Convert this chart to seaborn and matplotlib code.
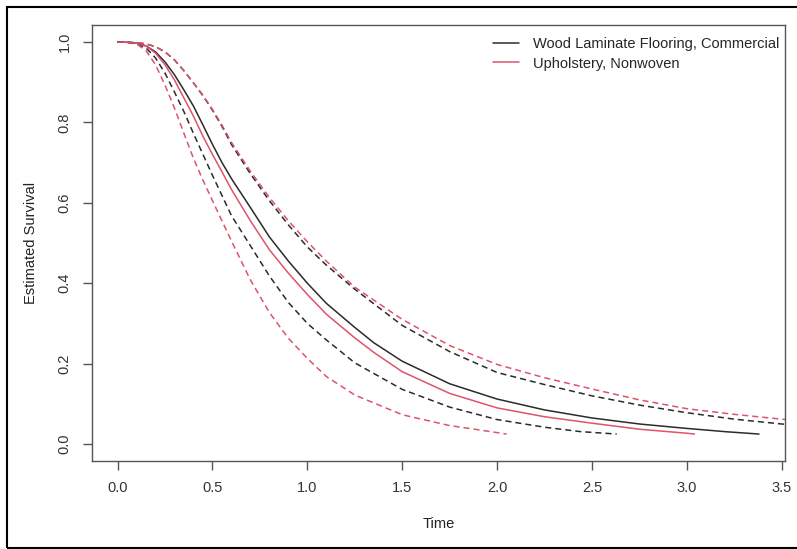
import matplotlib
matplotlib.use('Agg')
import matplotlib.pyplot as plt
import seaborn as sns
from matplotlib.lines import Line2D
from matplotlib.patches import Rectangle

# Estimated survival curves (time, survival)
wood_t = [0, 0.05, 0.1, 0.15, 0.2, 0.25, 0.3, 0.35, 0.4, 0.45, 0.5, 0.55, 0.6, 0.7, 0.8, 0.9,
          1.0, 1.1, 1.25, 1.35, 1.5, 1.75, 2.0, 2.25, 2.5, 2.75, 3.0, 3.2, 3.38]
wood_est = [1.0, 0.999, 0.997, 0.99, 0.975, 0.95, 0.918, 0.88, 0.84, 0.793, 0.745, 0.70,
            0.66, 0.588, 0.515, 0.455, 0.40, 0.35, 0.29, 0.252, 0.206, 0.15, 0.112, 0.085,
            0.065, 0.05, 0.039, 0.031, 0.025]

wood_lo_t = [0, 0.05, 0.1, 0.15, 0.2, 0.25, 0.3, 0.35, 0.4, 0.45, 0.5, 0.55, 0.6, 0.7, 0.8,
             0.9, 1.0, 1.1, 1.25, 1.5, 1.75, 2.0, 2.25, 2.44, 2.63]
wood_lo = [1.0, 0.999, 0.996, 0.985, 0.96, 0.922, 0.875, 0.826, 0.772, 0.72, 0.668, 0.618,
           0.568, 0.493, 0.418, 0.352, 0.30, 0.259, 0.202, 0.136, 0.092, 0.061, 0.042,
           0.031, 0.025]

wood_hi_t = [0, 0.05, 0.1, 0.15, 0.2, 0.25, 0.3, 0.35, 0.4, 0.45, 0.5, 0.55, 0.6, 0.7, 0.8,
             0.9, 1.0, 1.1, 1.25, 1.5, 1.75, 2.0, 2.25, 2.5, 2.75, 3.0, 3.25, 3.5, 3.6]
wood_hi = [1.0, 0.999, 0.998, 0.995, 0.988, 0.975, 0.955, 0.928, 0.898, 0.866, 0.83, 0.79,
           0.745, 0.672, 0.605, 0.545, 0.49, 0.445, 0.385, 0.295, 0.23, 0.178, 0.148, 0.12,
           0.097, 0.078, 0.062, 0.05, 0.046]

uph_t = [0, 0.05, 0.1, 0.15, 0.2, 0.25, 0.3, 0.35, 0.4, 0.45, 0.5, 0.55, 0.6, 0.7, 0.8, 0.9,
         1.0, 1.1, 1.25, 1.35, 1.5, 1.75, 2.0, 2.25, 2.5, 2.75, 3.0, 3.04]
uph_est = [1.0, 0.999, 0.997, 0.99, 0.972, 0.943, 0.905, 0.86, 0.815, 0.765, 0.72, 0.677,
           0.633, 0.555, 0.483, 0.425, 0.372, 0.323, 0.264, 0.228, 0.18, 0.126, 0.09, 0.068,
           0.052, 0.037, 0.027, 0.025]

uph_lo_t = [0, 0.05, 0.1, 0.15, 0.2, 0.25, 0.3, 0.35, 0.4, 0.45, 0.5, 0.55, 0.6, 0.7, 0.8,
            0.9, 1.0, 1.1, 1.25, 1.5, 1.75, 1.91, 2.05]
uph_lo = [1.0, 0.999, 0.995, 0.978, 0.943, 0.892, 0.835, 0.772, 0.71, 0.656, 0.605, 0.555,
          0.505, 0.408, 0.327, 0.263, 0.213, 0.168, 0.122, 0.073, 0.046, 0.035, 0.025]

uph_hi_t = [0, 0.05, 0.1, 0.15, 0.2, 0.25, 0.3, 0.35, 0.4, 0.45, 0.5, 0.55, 0.6, 0.7, 0.8,
            0.9, 1.0, 1.1, 1.25, 1.5, 1.75, 2.0, 2.25, 2.5, 2.75, 3.0, 3.25, 3.5, 3.6]
uph_hi = [1.0, 0.999, 0.998, 0.995, 0.988, 0.975, 0.955, 0.928, 0.898, 0.867, 0.832, 0.793,
          0.75, 0.678, 0.613, 0.555, 0.503, 0.455, 0.39, 0.31, 0.245, 0.198, 0.165, 0.137,
          0.11, 0.088, 0.074, 0.062, 0.058]

labels = ['Wood Laminate Flooring, Commercial', 'Upholstery, Nonwoven']
x_ticks = [0.0, 0.5, 1.0, 1.5, 2.0, 2.5, 3.0, 3.5]
y_ticks = [0.0, 0.2, 0.4, 0.6, 0.8, 1.0]

BLACK = '#2b2b2b'
PINK = '#df536b'
AXCOL = '#555555'

sns.set_style('white')
plt.rcParams['font.family'] = ['Liberation Sans', 'DejaVu Sans']

fig = plt.figure(figsize=(7.97, 5.49), dpi=100)
ax = fig.add_axes([92 / 797, 1 - 461 / 549, (785 - 92) / 797, (461 - 25) / 549])

dash = (0, (4.0, 2.6))
lw = 1.1
sns.lineplot(x=wood_hi_t, y=wood_hi, color=BLACK, lw=lw, linestyle=dash, ax=ax, estimator=None, sort=False)
sns.lineplot(x=wood_lo_t, y=wood_lo, color=BLACK, lw=lw, linestyle=dash, ax=ax, estimator=None, sort=False)
sns.lineplot(x=uph_hi_t, y=uph_hi, color=PINK, lw=lw, linestyle=dash, ax=ax, estimator=None, sort=False)
sns.lineplot(x=uph_lo_t, y=uph_lo, color=PINK, lw=lw, linestyle=dash, ax=ax, estimator=None, sort=False)
sns.lineplot(x=wood_t, y=wood_est, color=BLACK, lw=lw, ax=ax, estimator=None, sort=False)
sns.lineplot(x=uph_t, y=uph_est, color=PINK, lw=lw, ax=ax, estimator=None, sort=False)

ax.set_xlim(-0.135, 3.517)
ax.set_ylim(-0.042, 1.042)
ax.set_xticks(x_ticks)
ax.set_xticklabels([f'{v:.1f}' for v in x_ticks])
ax.set_yticks(y_ticks)
ax.set_yticklabels([f'{v:.1f}' for v in y_ticks], rotation=90, va='center')
ax.tick_params(axis='both', direction='out', length=6.5, width=1.0, color=AXCOL,
               labelsize=10.5, labelcolor='#333333', pad=8, bottom=True, left=True)
for sp in ax.spines.values():
    sp.set_color(AXCOL)
    sp.set_linewidth(1.0)

ax.set_xlabel('Time', fontsize=10.5, color='#222222', labelpad=16)
ax.set_ylabel('Estimated Survival', fontsize=10.5, color='#222222', labelpad=14)

handles = [Line2D([], [], color=BLACK, lw=lw), Line2D([], [], color=PINK, lw=lw)]
ax.legend(handles, labels, loc='upper right', bbox_to_anchor=(779 / 797, 1 - 37 / 549),
          bbox_transform=fig.transFigure, frameon=False, fontsize=10.5, borderpad=0,
          borderaxespad=0, handlelength=1.78, handletextpad=0.96, labelspacing=0.38)

# outer frame around the picture
fig.patches.append(Rectangle((7 / 797, 1.5 / 549), 1.2, 1 - 8.5 / 549, transform=fig.transFigure,
                             fill=False, edgecolor='black', lw=1.5))

fig.savefig('out.png', dpi=100)
